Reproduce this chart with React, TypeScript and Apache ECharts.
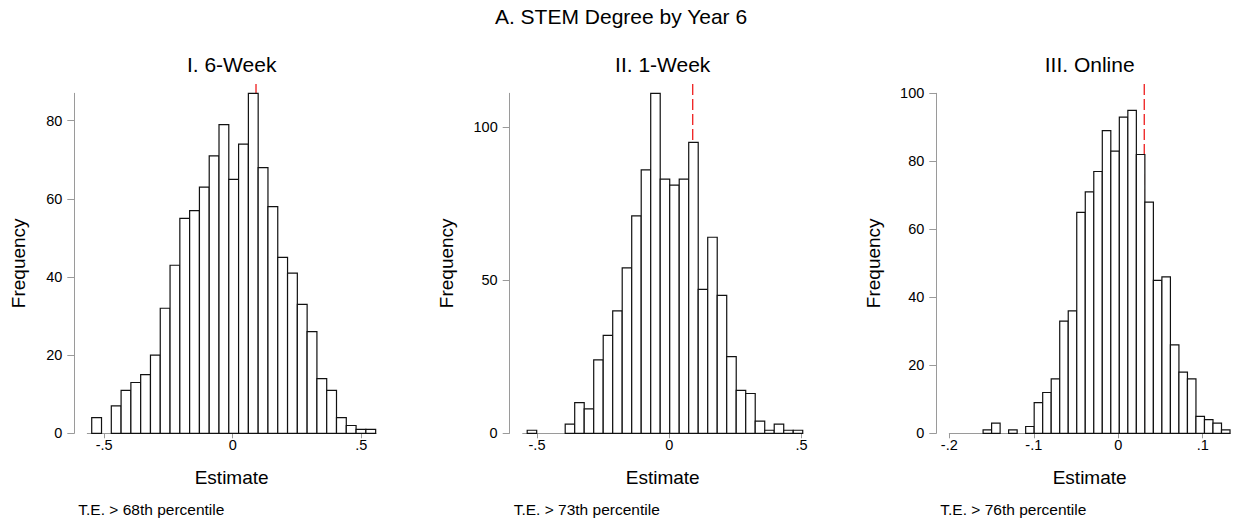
import React, { useEffect, useRef } from "react";
import * as echarts from "echarts";

// Permutation histograms: frequency of placebo estimates, 29 bins per panel
const MAIN_TITLE = "A. STEM Degree by Year 6";
const PANEL_TITLES = ["I. 6-Week", "II. 1-Week", "III. Online"];
const NOTES = ["T.E. > 68th percentile", "T.E. > 73th percentile", "T.E. > 76th percentile"];
const X_TITLE = "Estimate";
const Y_TITLE = "Frequency";

const COUNTS_6WEEK = [4, 0, 7, 11, 13, 15, 20, 32, 43, 55, 57, 63, 71, 79, 65, 74, 87, 68, 58, 45, 41, 33, 26, 14, 11, 4, 2, 1, 1];
const COUNTS_1WEEK = [1, 0, 0, 0, 3, 10, 8, 24, 32, 40, 54, 71, 86, 111, 83, 81, 83, 95, 47, 64, 45, 25, 14, 13, 4, 1, 3, 1, 1];
const COUNTS_ONLINE = [1, 3, 0, 1, 0, 2, 9, 12, 16, 33, 36, 65, 71, 77, 89, 83, 93, 95, 82, 68, 45, 46, 26, 18, 16, 5, 4, 3, 1];

const BIN_START = [-0.5486, -0.537, -0.16];
const BIN_WIDTH = [0.0381, 0.0359, 0.01008];
const TREATMENT_EFFECT = [0.0907, 0.0884, 0.0308];

const X_RANGE = [
  [-0.5658, 0.5576],
  [-0.554, 0.504],
  [-0.2, 0.1323],
];
const X_TICKS = [
  [-0.5, 0, 0.5],
  [-0.5, 0, 0.5],
  [-0.2, -0.1, 0, 0.1],
];
const Y_MAX = [87, 111, 100];
const Y_TICKS = [
  [0, 20, 40, 60, 80],
  [0, 50, 100],
  [0, 20, 40, 60, 80, 100],
];

const COUNTS = [COUNTS_6WEEK, COUNTS_1WEEK, COUNTS_ONLINE];

// layout
const FONT = "'Liberation Sans', Arial, Helvetica, sans-serif";
const GRID_LEFT = [87.3, 522.7, 949.3];
const GRID_WIDTH = [288.7, 280, 280.7];
const GRID_TOP = 93.3;
const GRID_HEIGHT = 340;
const REGION_TOP = 84;
const Y_AXIS_OFFSET = 13;
const Y_NAME_GAP = [46, 53.5, 53.5];
const AXIS_GRAY = "#9a9a9a";

const fmtTick = (v: number) => {
  if (Math.abs(v) < 1e-9) return "0";
  return String(+v.toFixed(3)).replace(/^(-?)0\./, "$1.");
};

export default function App() {
  const ref = useRef<HTMLDivElement>(null);

  useEffect(() => {
    if (!ref.current) return;
    const chart = echarts.init(ref.current, undefined, { renderer: "svg" });

    const grid: any[] = [];
    const xAxis: any[] = [];
    const yAxis: any[] = [];
    const series: any[] = [];
    const graphic: any[] = [];

    graphic.push({
      type: "text",
      x: 621,
      y: 16,
      style: { text: MAIN_TITLE, fontSize: 21, fontFamily: FONT, fill: "#000", align: "center", verticalAlign: "middle" },
    });

    for (let k = 0; k < 3; k++) {
      const main = k * 2;
      const overlay = k * 2 + 1;
      grid.push({ left: GRID_LEFT[k], width: GRID_WIDTH[k], top: GRID_TOP, height: GRID_HEIGHT });
      grid.push({ left: GRID_LEFT[k], width: GRID_WIDTH[k], top: REGION_TOP, height: GRID_TOP + GRID_HEIGHT - REGION_TOP });

      xAxis.push({
        type: "value",
        gridIndex: main,
        min: X_RANGE[k][0],
        max: X_RANGE[k][1],
        splitLine: { show: false },
        axisLine: { show: true, onZero: false, lineStyle: { color: AXIS_GRAY, width: 1 } },
        axisTick: { show: true, length: 5, lineStyle: { color: AXIS_GRAY }, customValues: X_TICKS[k] },
        axisLabel: {
          customValues: X_TICKS[k],
          formatter: fmtTick,
          fontSize: 14.5,
          fontFamily: FONT,
          color: "#000",
          margin: 4,
        },
        name: X_TITLE,
        nameLocation: "middle",
        nameGap: 35,
        nameTextStyle: { fontSize: 19, fontFamily: FONT, color: "#000" },
      });
      xAxis.push({ type: "value", gridIndex: overlay, min: X_RANGE[k][0], max: X_RANGE[k][1], show: false });

      yAxis.push({
        type: "value",
        gridIndex: main,
        min: 0,
        max: Y_MAX[k],
        offset: Y_AXIS_OFFSET,
        splitLine: { show: false },
        axisLine: { show: true, onZero: false, lineStyle: { color: AXIS_GRAY, width: 1 } },
        axisTick: { show: true, length: 7, lineStyle: { color: AXIS_GRAY }, customValues: Y_TICKS[k] },
        axisLabel: {
          customValues: Y_TICKS[k],
          formatter: fmtTick,
          fontSize: 14.5,
          fontFamily: FONT,
          color: "#000",
          margin: 12,
        },
        name: Y_TITLE,
        nameLocation: "middle",
        nameRotate: 90,
        nameGap: Y_NAME_GAP[k],
        nameTextStyle: { fontSize: 19, fontFamily: FONT, color: "#000" },
      });
      yAxis.push({ type: "value", gridIndex: overlay, min: 0, max: 1, show: false });

      const bins = COUNTS[k].map((c, i) => [
        BIN_START[k] + i * BIN_WIDTH[k],
        BIN_START[k] + (i + 1) * BIN_WIDTH[k],
        c,
      ]);

      // red dashed reference line at the actual treatment effect, drawn behind the bars
      series.push({
        type: "line",
        xAxisIndex: overlay,
        yAxisIndex: overlay,
        data: [
          [TREATMENT_EFFECT[k], 1],
          [TREATMENT_EFFECT[k], 0],
        ],
        symbol: "none",
        silent: true,
        z: 1,
        lineStyle: { color: "#ee1c1c", width: 1.3, type: [11, 4] },
      });

      series.push({
        type: "custom",
        xAxisIndex: main,
        yAxisIndex: main,
        z: 3,
        data: bins,
        encode: { x: [0, 1], y: 2 },
        renderItem: (params: any, api: any) => {
          const c = api.value(2);
          if (!c) return null;
          const p0 = api.coord([api.value(0), c]);
          const p1 = api.coord([api.value(1), 0]);
          return {
            type: "rect",
            shape: { x: p0[0], y: p0[1], width: p1[0] - p0[0], height: p1[1] - p0[1] },
            style: { fill: "#ffffff", stroke: "#111111", lineWidth: 1.2 },
          };
        },
      });

      graphic.push({
        type: "text",
        x: GRID_LEFT[k] + GRID_WIDTH[k] / 2,
        y: 64,
        style: { text: PANEL_TITLES[k], fontSize: 21, fontFamily: FONT, fill: "#000", align: "center", verticalAlign: "middle" },
      });
      graphic.push({
        type: "text",
        x: GRID_LEFT[k] - Y_AXIS_OFFSET + 4,
        y: 509,
        style: { text: NOTES[k], fontSize: 15.5, fontFamily: FONT, fill: "#000", align: "left", verticalAlign: "middle" },
      });
    }

    chart.setOption({
      animation: false,
      backgroundColor: "#ffffff",
      grid,
      xAxis,
      yAxis,
      series,
      graphic,
    });

    return () => chart.dispose();
  }, []);

  return (
    <div
      ref={ref}
      style={{ position: "fixed", left: 0, top: 0, width: 1236, height: 522, background: "#fff" }}
    />
  );
}
